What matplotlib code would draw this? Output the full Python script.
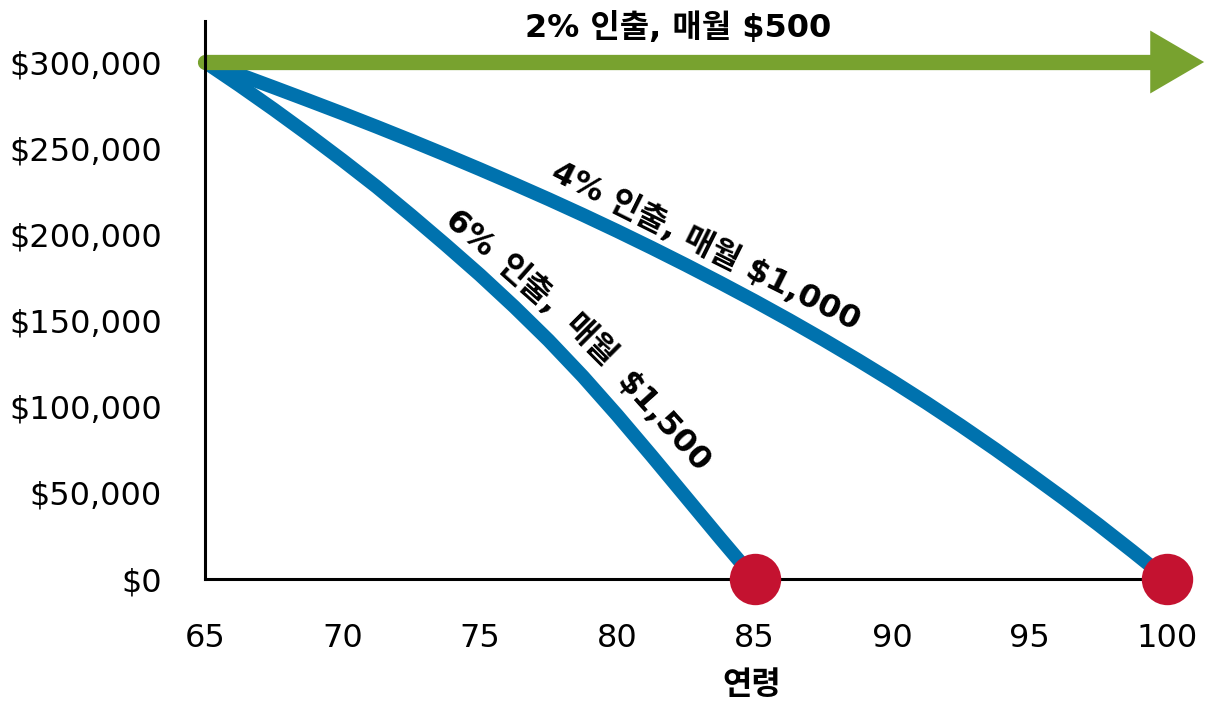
import matplotlib.pyplot as plt
from matplotlib.ticker import FuncFormatter

# ages and balances
ages_4 = [65, 66.25, 67.5, 68.75, 70, 71.25, 72.5, 73.75, 75, 76.25, 77.5, 78.75, 80,
          81.25, 82.5, 83.75, 85, 86.25, 87.5, 88.75, 90, 91.25, 92.5, 93.75, 95,
          96.25, 97.5, 98.75, 100]
bal_4 = [300000, 292700, 285300, 277800, 270200, 262400, 254400, 246200, 237800,
         229200, 220400, 211300, 201900, 192200, 182200, 171900, 161300, 150300,
         138900, 127100, 114900, 102200, 89000, 75300, 61100, 46600, 31600, 16000, 0]

ages_6 = [65, 66.25, 67.5, 68.75, 70, 71.25, 72.5, 73.75, 75, 76.25, 77.5, 78.75, 80,
          81.25, 82.5, 83.75, 85]
bal_6 = [300000, 286500, 272500, 258000, 243000, 227500, 211000, 194000, 176500,
         158000, 138500, 117500, 95000, 71500, 47500, 23500, 0]

ages_2 = [65, 99.4]
bal_2 = [300000, 300000]

depleted_ages = [85, 100]
depleted_bal = [0, 0]

x_ticks = [65, 70, 75, 80, 85, 90, 95, 100]
y_ticks = [0, 50000, 100000, 150000, 200000, 250000, 300000]

label_2 = "2% 인출, 매월 $500"
label_4 = "4% 인출, 매월 $1,000"
# the 6% label bends with its line, so it is set word by word
label_6_words = ["6%", "인출,", "매월", "$1,500"]
label_6_ages = [74.6, 76.75, 79.0, 81.66]
label_6_vals = [199500, 170600, 137500, 90500]
label_6_rot = [-40, -41.5, -45, -48]
x_title = "연령"

BLUE = '#0072AE'
GREEN = '#78A22F'
RED = '#C41230'
MIX = ['DejaVu Sans', 'Noto Sans CJK KR']
KR = ['Noto Sans CJK KR', 'DejaVu Sans']

fig = plt.figure(figsize=(12.13, 7.02), dpi=100)
ax = fig.add_axes([205 / 1213, 1 - 579 / 702, 962 / 1213, 558 / 702])

ax.plot(ages_4, bal_4, color=BLUE, lw=10, solid_capstyle='butt', solid_joinstyle='round', clip_on=False, zorder=2)
ax.plot(ages_6, bal_6, color=BLUE, lw=10, solid_capstyle='butt', solid_joinstyle='round', clip_on=False, zorder=2)
ax.plot(ages_2, bal_2, color=GREEN, lw=11, solid_capstyle='round', clip_on=False, zorder=3)
ax.arrow(ages_2[-1] - 0.1, bal_2[-1], 2.05, 0, width=0, head_width=36500, head_length=1.96,
         length_includes_head=True, color=GREEN, lw=0, clip_on=False, zorder=3)
ax.plot(depleted_ages, depleted_bal, 'o', color=RED, markersize=37, markeredgewidth=0,
        clip_on=False, zorder=5)

ax.set_xlim(65, 100)
ax.set_ylim(0, 323800)
ax.set_xticks(x_ticks)
ax.set_yticks(y_ticks)
ax.yaxis.set_major_formatter(FuncFormatter(lambda v, p: "${:,.0f}".format(v)))
ax.tick_params(axis='x', length=0, pad=32, labelsize=23)
ax.tick_params(axis='y', length=0, pad=31, labelsize=23)

for s in ['top', 'right']:
    ax.spines[s].set_visible(False)
for s in ['left', 'bottom']:
    ax.spines[s].set_linewidth(2.2)
    ax.spines[s].set_zorder(4)

fig.text(678 / 1213, 1 - 28 / 702, label_2, ha='center', va='center', fontsize=23,
         fontweight='bold', family=MIX)
ax.text(83.2, 192700, label_4, ha='center', va='center', rotation=-26.5, rotation_mode='anchor',
        fontsize=23, fontweight='bold', family=MIX)
for word, a, v, r in zip(label_6_words, label_6_ages, label_6_vals, label_6_rot):
    ax.text(a, v, word, ha='center', va='center', rotation=r, rotation_mode='anchor',
            fontsize=23, fontweight='bold', family=MIX)
fig.text(752 / 1213, 1 - 685 / 702, x_title, ha='center', va='center', fontsize=23,
         fontweight='bold', family=KR)

fig.savefig('out.png', dpi=100)
